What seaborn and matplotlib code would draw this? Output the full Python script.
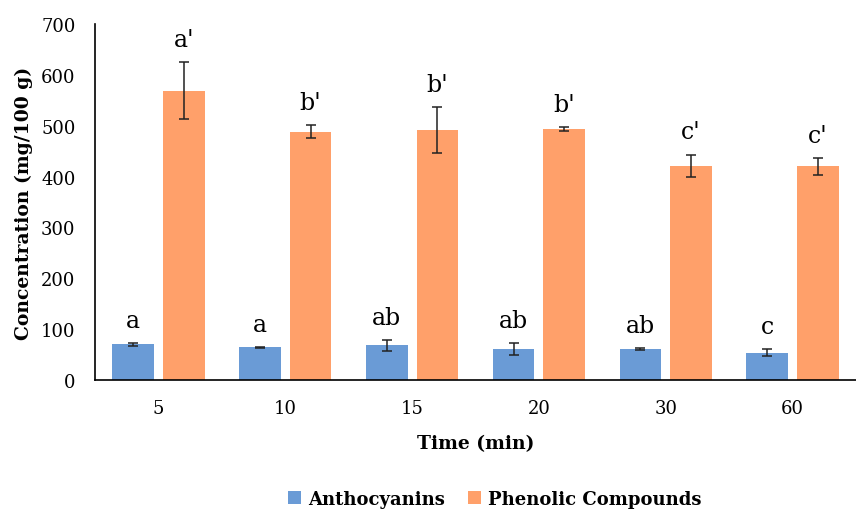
import pandas as pd
import seaborn as sns
import numpy as np
import matplotlib
matplotlib.use("Agg")
import matplotlib.pyplot as plt

# values
times = ["5", "10", "15", "20", "30", "60"]
antho = [70, 64, 68, 61, 61, 54]
antho_err = [3, 1, 11, 11, 2, 7]
phenol = [569, 488, 492, 493, 421, 420]
phenol_err = [56, 13, 45, 4, 22, 16]
antho_letters = ["a", "a", "ab", "ab", "ab", "c"]
phenol_letters = ["a'", "b'", "b'", "b'", "c'", "c'"]

series = ["Anthocyanins", "Phenolic Compounds"]
colors = ["#6A9BD6", "#FFA06A"]

df = pd.DataFrame({
    "Time": times * 2,
    "Concentration": antho + phenol,
    "Compound": [series[0]] * len(times) + [series[1]] * len(times),
})

sns.set_style("white")
plt.rcParams["font.family"] = ["DejaVu Serif"]
plt.rcParams.update({"text.color": "black", "axes.labelcolor": "black",
                     "xtick.color": "black", "ytick.color": "black"})

fig, ax = plt.subplots(figsize=(8.56, 5.10), dpi=100)
fig.subplots_adjust(left=0.111, right=1.0, bottom=0.253, top=0.951)

sns.barplot(data=df, x="Time", y="Concentration", hue="Compound",
            order=times, hue_order=series, palette=colors, saturation=1,
            width=0.80, gap=0.18, errorbar=None, linewidth=0, ax=ax)

# error bars + significance letters on top of each bar
bars = ax.patches
errs = antho_err + phenol_err
letters = antho_letters + phenol_letters
vals = antho + phenol
for bar, v, e, lab in zip(bars, vals, errs, letters):
    xc = bar.get_x() + bar.get_width() / 2
    ax.errorbar(xc, v, yerr=e, color="#222222", capsize=3.5, elinewidth=1.1,
                capthick=1.1, fmt="none")
    ax.text(xc, v + e + 22, lab, ha="center", va="bottom", fontsize=17)

ax.set_ylim(0, 700)
ax.set_yticks(range(0, 701, 100))
ax.set_xlim(-0.5, 5.5)
ax.tick_params(axis="both", length=0, labelsize=13)
ax.tick_params(axis="x", pad=14)
ax.tick_params(axis="y", pad=14)
ax.set_ylabel("Concentration (mg/100 g)", fontsize=13.5, fontweight="bold",
              labelpad=6)
ax.set_xlabel("Time (min)", fontsize=13.5, fontweight="bold", labelpad=12)
sns.despine(ax=ax)
for s in ["left", "bottom"]:
    ax.spines[s].set_color("black")
    ax.spines[s].set_linewidth(1.2)

sns.move_legend(ax, "lower center", bbox_to_anchor=(0.578, -0.03),
                bbox_transform=fig.transFigure, ncol=2, frameon=False,
                title=None, handlelength=0.7, handleheight=0.7,
                columnspacing=1.3, handletextpad=0.4,
                prop={"weight": "bold", "size": 13})

fig.savefig("out.png", dpi=100)
